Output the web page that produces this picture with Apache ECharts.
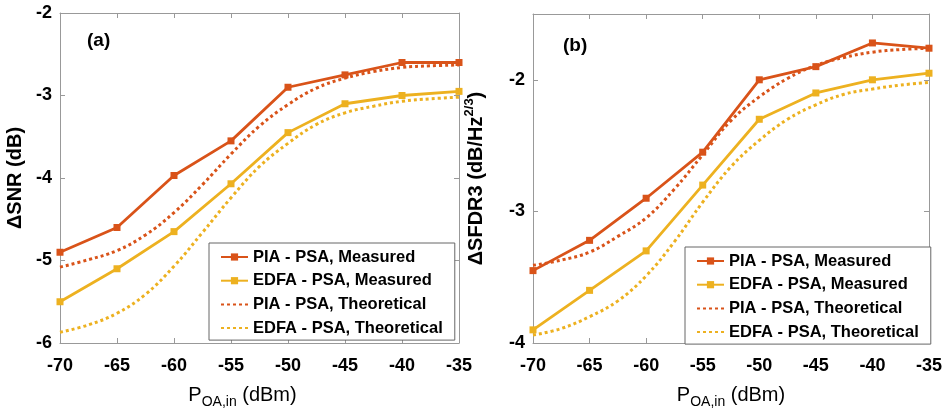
<!DOCTYPE html>
<html><head><meta charset="utf-8">
<script src="https://cdn.jsdelivr.net/npm/echarts@6/dist/echarts.min.js"></script>
<style>html,body{margin:0;padding:0;background:#fff}#c{width:945px;height:414px}</style>
</head><body><div id="c"></div>
<script>
const xTicks = [-70,-65,-60,-55,-50,-45,-40,-35];
const xMeasured = [-70,-65,-60,-55,-50,-45,-40,-35];
const xTheory = [-70,-67.5,-65,-62.5,-60,-57.5,-55,-52.5,-50,-47.5,-45,-42.5,-40,-37.5,-35];
const a_piaMeas = [-4.90,-4.60,-3.97,-3.55,-2.90,-2.75,-2.60,-2.60];
const a_edfaMeas = [-5.50,-5.10,-4.65,-4.07,-3.45,-3.10,-3.00,-2.95];
const a_piaTheo = [-5.08,-4.99,-4.88,-4.69,-4.42,-4.08,-3.71,-3.37,-3.11,-2.91,-2.79,-2.71,-2.66,-2.64,-2.63];
const a_edfaTheo = [-5.87,-5.78,-5.64,-5.41,-5.07,-4.66,-4.24,-3.86,-3.58,-3.35,-3.21,-3.13,-3.07,-3.04,-3.02];
const b_piaMeas = [-3.45,-3.22,-2.90,-2.55,-2.00,-1.90,-1.72,-1.76];
const b_edfaMeas = [-3.90,-3.60,-3.30,-2.80,-2.30,-2.10,-2.00,-1.95];
const b_piaTheo = [-3.41,-3.37,-3.31,-3.19,-3.05,-2.83,-2.57,-2.31,-2.13,-1.99,-1.89,-1.83,-1.79,-1.77,-1.76];
const b_edfaTheo = [-3.94,-3.89,-3.80,-3.68,-3.49,-3.23,-2.93,-2.66,-2.46,-2.30,-2.19,-2.11,-2.07,-2.04,-2.02];
const names = ['PIA - PSA, Measured','EDFA - PSA, Measured','PIA - PSA, Theoretical','EDFA - PSA, Theoretical'];

const RED = '#D95319', YEL = '#EDB120', AX = '#999999';
const FONT = 'Liberation Sans, Arial, sans-serif';
const zip = (xs, ys) => xs.map((x, i) => [x, ys[i]]);

function xAx(grid, top) {
  return {
    type: 'value', gridIndex: grid, position: top ? 'top' : 'bottom',
    min: -70, max: -35, interval: 5,
    axisLine: {show: true, lineStyle: {color: AX, width: 1}},
    axisTick: {show: true, inside: true, length: 5, lineStyle: {color: AX}},
    splitLine: {show: false},
    axisLabel: top ? {show: false} : {show: true, color: '#000', fontFamily: FONT, fontWeight: 'bold', fontSize: 18, margin: 14},
    name: top ? '' : '{a|P}{s|OA,in}{a| (dBm)}',
    nameLocation: 'middle', nameGap: 38,
    nameTextStyle: top ? {} : {
      padding: grid === 0 ? [0, 34, 0, 0] : [0, 0, 0, 0],
      rich: {
        a: {fontFamily: FONT, fontSize: 20, color: '#000'},
        s: {fontFamily: FONT, fontSize: 14, color: '#000', padding: [14, 0, 0, 0]}
      }
    }
  };
}
function yAx(grid, right, min, max, name, gap) {
  return {
    type: 'value', gridIndex: grid, position: right ? 'right' : 'left',
    min: min, max: max, interval: 1,
    axisLine: {show: true, lineStyle: {color: AX, width: 1}},
    axisTick: {show: true, inside: true, length: 5, lineStyle: {color: AX}},
    splitLine: {show: false},
    axisLabel: right ? {show: false} : {show: true, color: '#000', fontFamily: FONT, fontWeight: 'bold', fontSize: 18, margin: 8,
      formatter: v => (Number.isInteger(v) ? String(v) : '')},
    name: right ? '' : name,
    nameLocation: 'middle', nameGap: gap,
    nameTextStyle: right ? {} : {
      rich: {
        a: {fontFamily: FONT, fontSize: 20, fontWeight: 'bold', color: '#000'},
        s: {fontFamily: FONT, fontSize: 13, fontWeight: 'bold', color: '#000', padding: [0, 0, 14, 0]}
      }
    }
  };
}
function legend(left, top) {
  return {
    data: [
      {name: names[0]},
      {name: names[1]},
      {name: names[2], itemStyle: {opacity: 0}},
      {name: names[3], itemStyle: {opacity: 0}}
    ],
    orient: 'vertical', left: left, top: top,
    padding: [5, 12, 3, 11], itemGap: 5.7, itemWidth: 27, itemHeight: 9,
    backgroundColor: '#fff', borderColor: '#666', borderWidth: 1, borderRadius: 0,
    textStyle: {fontFamily: FONT, fontSize: 16.5, fontWeight: 'bold', color: '#000', height: 18, lineHeight: 18},
    selectedMode: false
  };
}
function series(gx, gy, pm, em, pt, et) {
  return [
    {name: names[0], type: 'line', xAxisIndex: gx, yAxisIndex: gy, data: zip(xMeasured, pm),
     symbol: 'rect', symbolSize: 7, itemStyle: {color: RED}, lineStyle: {color: RED, width: 2.8}, z: 3},
    {name: names[1], type: 'line', xAxisIndex: gx, yAxisIndex: gy, data: zip(xMeasured, em),
     symbol: 'rect', symbolSize: 7, itemStyle: {color: YEL}, lineStyle: {color: YEL, width: 2.8}, z: 3},
    {name: names[2], type: 'line', xAxisIndex: gx, yAxisIndex: gy, data: zip(xTheory, pt), smooth: 0.4,
     symbol: 'none', itemStyle: {color: RED}, lineStyle: {color: RED, width: 3, type: [3, 3]}, z: 4},
    {name: names[3], type: 'line', xAxisIndex: gx, yAxisIndex: gy, data: zip(xTheory, et), smooth: 0.4,
     symbol: 'none', itemStyle: {color: YEL}, lineStyle: {color: YEL, width: 3, type: [3, 3]}, z: 4}
  ];
}

const chart = echarts.init(document.getElementById('c'), null, {renderer: 'canvas'});
chart.setOption({
  animation: false,
  backgroundColor: '#fff',
  grid: [
    {left: 60, right: 486, top: 13, bottom: 64, show: false},
    {left: 533, right: 14, top: 14, bottom: 64, show: false}
  ],
  xAxis: [xAx(0, false), xAx(0, true), xAx(1, false), xAx(1, true)],
  yAxis: [
    yAx(0, false, -6, -2, '{a|ΔSNR (dB)}', 35),
    yAx(0, true, -6, -2, '', 0),
    yAx(1, false, -4, -1.5, '{a|ΔSFDR3 (dB/Hz}{s|2/3}{a|)}', 43),
    yAx(1, true, -4, -1.5, '', 0)
  ],
  legend: [legend(209, 243), legend(685, 247)],
  graphic: [
    {type: 'text', left: 87, top: 31, style: {text: '(a)', font: 'bold 19px ' + FONT, fill: '#000'}},
    {type: 'text', left: 563, top: 36, style: {text: '(b)', font: 'bold 19px ' + FONT, fill: '#000'}}
  ],
  series: [].concat(
    series(0, 0, a_piaMeas, a_edfaMeas, a_piaTheo, a_edfaTheo),
    series(2, 2, b_piaMeas, b_edfaMeas, b_piaTheo, b_edfaTheo)
  )
});
</script></body></html>
